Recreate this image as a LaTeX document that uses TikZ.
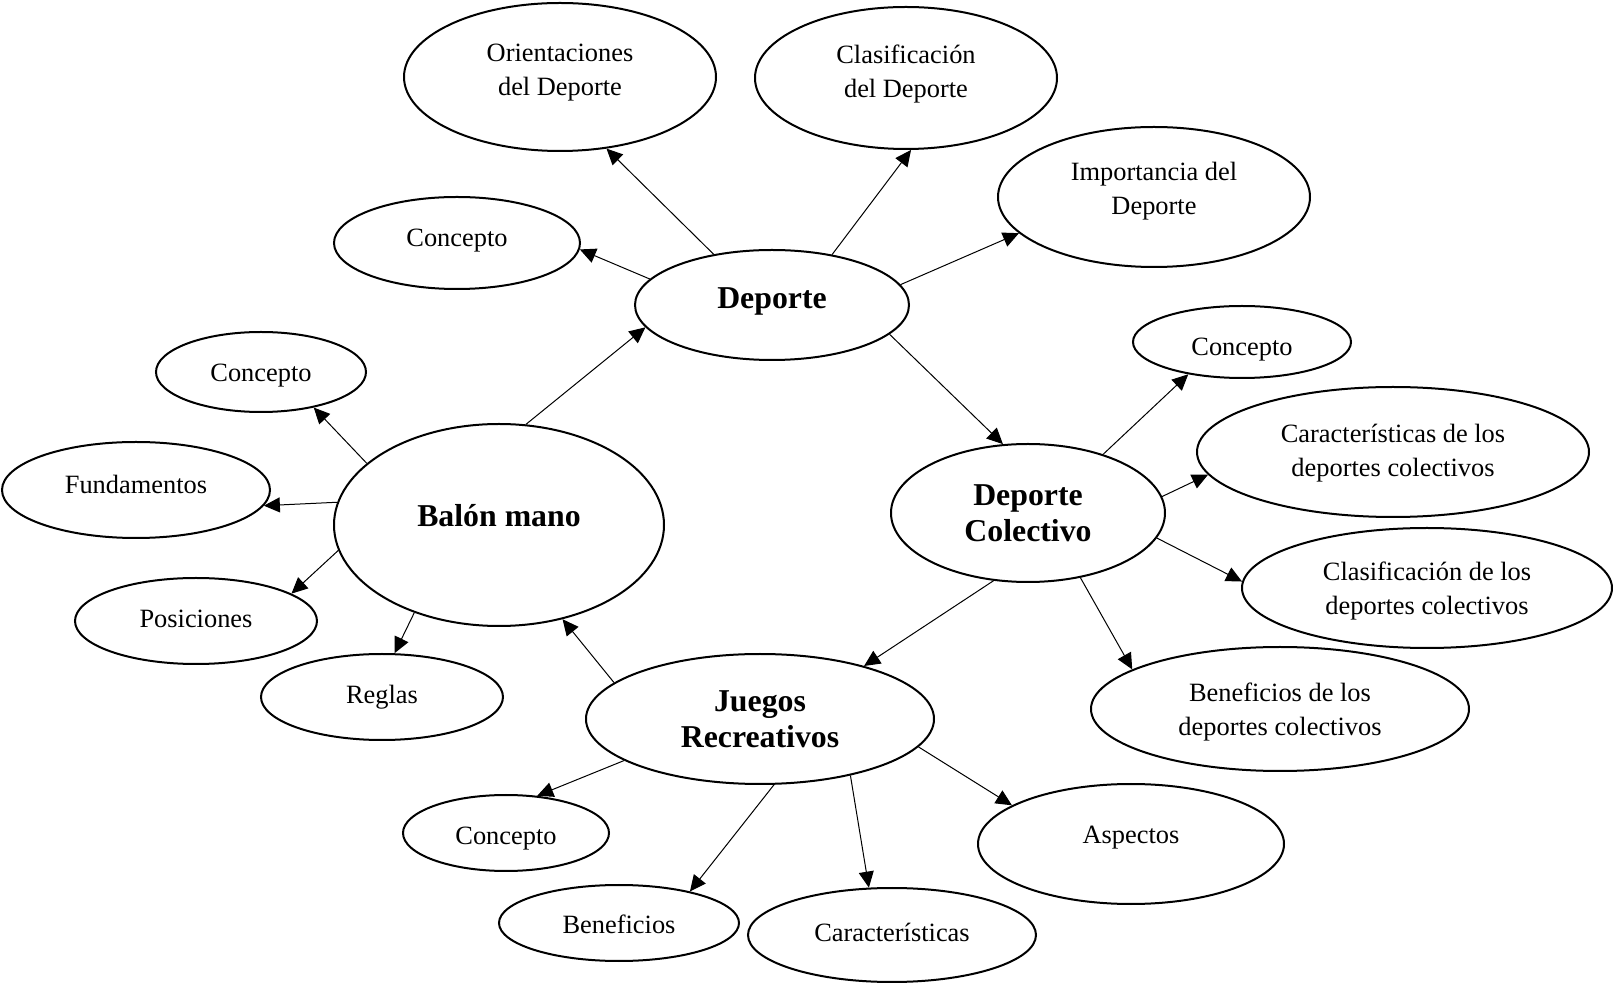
\documentclass[tikz,border=0pt]{standalone}
\usepackage{fontspec}
\setmainfont{Liberation Serif}
\usetikzlibrary{arrows.meta,shapes.geometric}

\begin{document}
\begin{tikzpicture}[x=0.5pt,y=-0.5pt,->,
			>={Triangle[length=8pt,width=7.5pt]},
			rad/.style 2 args={minimum width=#1pt,minimum height=#2pt},
			up/.style={text depth=#1pt},
			down/.style={text height=#1pt},
			sub node/.style={ellipse,draw,line width=1pt,inner sep=0pt,align=center,font=\fontsize{13.2}{17}\selectfont},
			main node/.style={sub node,font=\fontsize{15.9}{18}\selectfont\bfseries},
			link/.style={line width=0.5pt}
			]
			\useasboundingbox (0,0) rectangle (1613,983);

			\node[main node,rad={137}{55},up=6.5] at (772,305) (dep) {Deporte};
			\node[sub node,rad={156}{74},up=7] at (560,77) (ori) {Orientaciones\\del Deporte};
			\node[sub node,rad={151}{71},up=6.5] at (906,78) (cla) {Clasificación\\del Deporte};
			\node[sub node,rad={156}{70},up=8.5] at (1154,197) (imp) {Importancia del\\Deporte};
			\node[sub node,rad={123}{46},up=5] at (457,243) (cdep) {Concepto};

			\node[main node,rad={137}{69}] at (1028,513) (dc) {Deporte\\Colectivo};
			\node[sub node,rad={109}{36},down=16] at (1242,342) (cdc) {Concepto};
			\node[sub node,rad={196}{65},up=1.5] at (1393,452) (car) {Características de los\\deportes colectivos};
			\node[sub node,rad={185}{60},up=0] at (1427,588) (clas) {Clasificación de los\\deportes colectivos};
			\node[sub node,rad={189}{62},up=0] at (1280,709) (bdc) {Beneficios de los\\deportes colectivos};

			\node[main node,rad={165}{101},up=10] at (499,525) (bal) {Balón mano};
			\node[sub node,rad={105}{40},down=12] at (261,372) (cbal) {Concepto};
			\node[sub node,rad={134}{48},up=6] at (136,490) (fun) {Fundamentos};
			\node[sub node,rad={121}{43},up=2] at (196,621) (pos) {Posiciones};
			\node[sub node,rad={121}{43}] at (382,697) (reg) {Reglas};

			\node[main node,rad={174}{65}] at (760,719) (jr) {Juegos\\Recreativos};
			\node[sub node,rad={103}{38},down=14] at (506,833) (cjr) {Concepto};
			\node[sub node,rad={120}{38},down=11] at (619,923) (ben) {Beneficios};
			\node[sub node,rad={144}{47},up=3] at (892,935) (cars) {Características};
			\node[sub node,rad={153}{60},up=9] at (1131,844) (asp) {Aspectos};

			\draw[link] (dep.139) -- (ori.-57);
			\draw[link] (dep.40) -- (cla.-86);
			\draw[link] (dep.9) -- (imp.195);
			\draw[link] (dep.168) -- (cdep.-3);
			\draw[link] (dep.-14) -- (dc.110);

			\draw[link] (bal.75) -- (dep.190);
			\draw[link] (bal.155) -- (cbal.-34);
			\draw[link] (bal.172) -- (fun.-7);
			\draw[link] (bal.189) -- (pos.16);
			\draw[link] (bal.226) -- (reg.74);

			\draw[link] (dc.38) -- (cdc.211);
			\draw[link] (dc.7) -- (car.187);
			\draw[link] (dc.-11) -- (clas.178);
			\draw[link] (dc.-51) -- (bdc.165);
			\draw[link] (dc.243) -- (jr.27);

			\draw[link] (jr.166) -- (bal.-56);
			\draw[link] (jr.197) -- (cjr.50);
			\draw[link] (jr.-78) -- (ben.24);
			\draw[link] (jr.-32) -- (cars.116);
			\draw[link] (jr.-10) -- (asp.162);
		\end{tikzpicture}
\end{document}
